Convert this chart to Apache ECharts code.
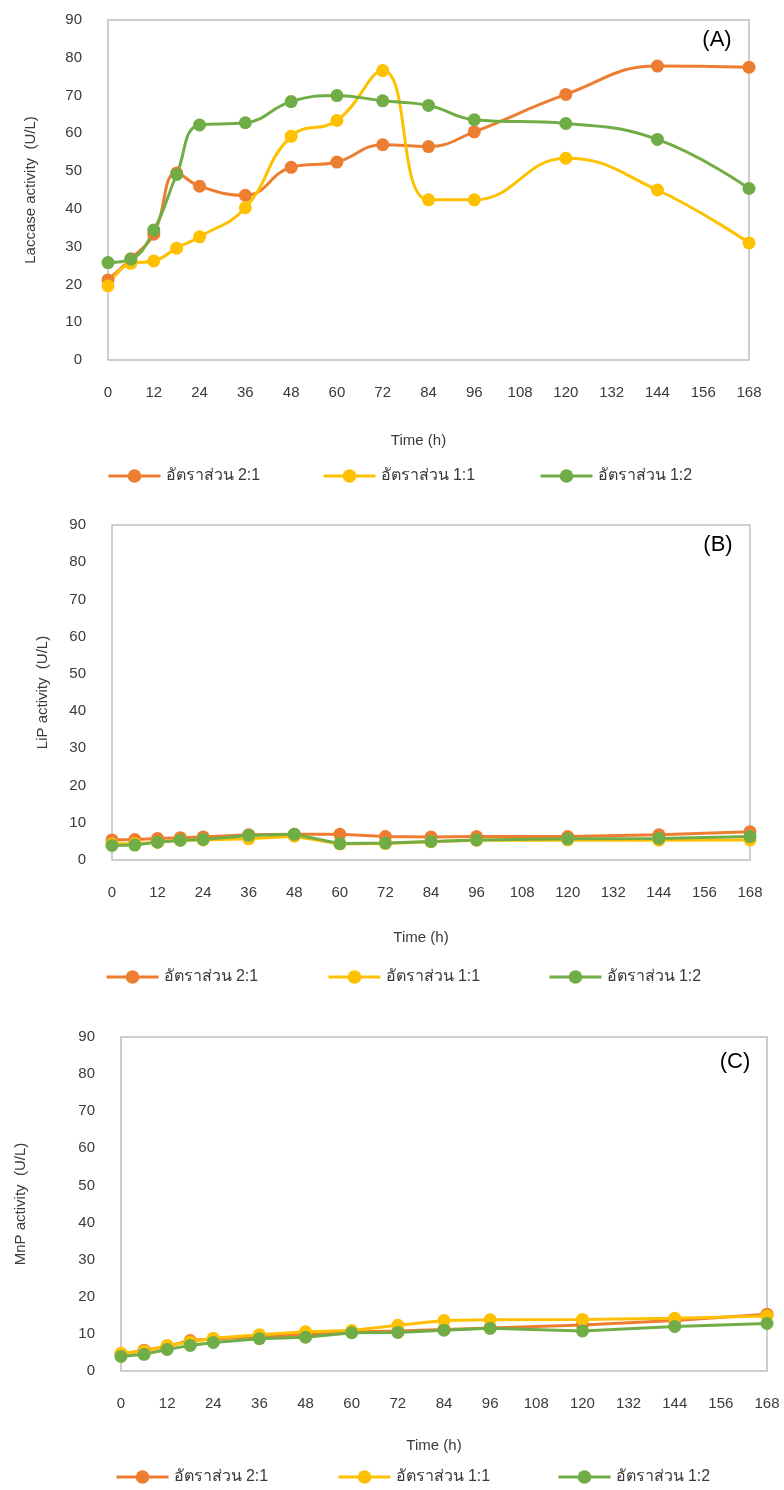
<!DOCTYPE html>
<html>
<head>
<meta charset="utf-8">
<script src="https://cdn.jsdelivr.net/npm/echarts@6/dist/echarts.min.js"></script>
<style>
  html, body { margin: 0; padding: 0; background: #fff; }
  #chart { width: 784px; height: 1490px; }
</style>
</head>
<body>
<div id="chart"></div>
<script>
// ---- data ----
const times = [0, 6, 12, 18, 24, 36, 48, 60, 72, 84, 96, 120, 144, 168];
const seriesNames = ['อัตราส่วน 2:1', 'อัตราส่วน 1:1', 'อัตราส่วน 1:2'];
const xTicks = [0, 12, 24, 36, 48, 60, 72, 84, 96, 108, 120, 132, 144, 156, 168];
const yTicks = [0, 10, 20, 30, 40, 50, 60, 70, 80, 90];

// (A) Laccase activity (U/L)
const laccase21 = [21.2, 26.8, 33.3, 49.5, 46.0, 43.6, 51.0, 52.4, 57.0, 56.5, 60.4, 70.3, 77.8, 77.5];
const laccase11 = [19.6, 25.6, 26.2, 29.6, 32.6, 40.3, 59.2, 63.4, 76.6, 42.4, 42.4, 53.4, 45.0, 31.0];
const laccase12 = [25.8, 26.7, 34.4, 49.1, 62.2, 62.8, 68.4, 70.0, 68.6, 67.4, 63.6, 62.6, 58.4, 45.4];

// (B) LiP activity (U/L)
const lip21 = [5.4, 5.5, 5.8, 6.0, 6.2, 6.8, 6.9, 6.9, 6.3, 6.2, 6.3, 6.3, 6.8, 7.6];
const lip11 = [4.3, 4.4, 4.8, 5.3, 5.4, 5.7, 6.4, 4.3, 4.4, 4.9, 5.3, 5.4, 5.3, 5.4];
const lip12 = [3.9, 4.0, 4.8, 5.3, 5.5, 6.6, 6.9, 4.4, 4.6, 5.0, 5.4, 5.7, 5.8, 6.3];

// (C) MnP activity (U/L)
const mnp21 = [4.5, 5.6, 6.6, 8.2, 8.6, 9.3, 9.8, 10.5, 10.8, 11.2, 11.6, 12.4, 13.6, 15.3];
const mnp11 = [4.8, 5.3, 6.9, 7.8, 8.8, 9.8, 10.6, 10.9, 12.3, 13.6, 13.8, 13.9, 14.2, 14.8];
const mnp12 = [3.9, 4.5, 5.8, 6.9, 7.7, 8.7, 9.1, 10.3, 10.4, 11.0, 11.5, 10.8, 12.0, 12.8];

const panelLabels = ['(A)', '(B)', '(C)'];
const yNames = ['Laccase activity  (U/L)', 'LiP activity  (U/L)', 'MnP activity  (U/L)'];
const xName = 'Time (h)';

// ---- styling / layout ----
const colors = ['#ED7D31', '#FFC000', '#70AD47'];
const FONT = "'Liberation Sans', 'Noto Sans', 'DejaVu Sans', sans-serif";
const TXT = '#3a3a3a';

const panels = [
  { data: [laccase21, laccase11, laccase12], smooth: 0.45,
    grid: { left: 108, top: 20, width: 641, height: 340 },
    yNameGap: 70, xNameGap: 73, labelPos: [717, 40],
    legendLeft: [107, 322, 539], legendTop: 468 },
  { data: [lip21, lip11, lip12], smooth: false,
    grid: { left: 112, top: 525, width: 638, height: 335 },
    yNameGap: 62, xNameGap: 70, labelPos: [718, 545],
    legendLeft: [105, 327, 548], legendTop: 969 },
  { data: [mnp21, mnp11, mnp12], smooth: false,
    grid: { left: 121, top: 1037, width: 646, height: 334 },
    yNameGap: 93, xNameGap: 67, labelPos: [735, 1062],
    legendLeft: [115, 337, 557], legendTop: 1469 }
];

const option = {
  animation: false,
  backgroundColor: '#fff',
  textStyle: { fontFamily: FONT, color: TXT },
  grid: [], xAxis: [], yAxis: [], series: [], legend: [],
  graphic: []
};

panels.forEach((p, i) => {
  option.grid.push(Object.assign({ show: true, borderColor: '#BFBFBF', borderWidth: 1.5, backgroundColor: '#fff' }, p.grid));
  option.xAxis.push({
    type: 'value', gridIndex: i, min: xTicks[0], max: xTicks[xTicks.length - 1], interval: xTicks[1] - xTicks[0],
    axisLine: { show: false }, axisTick: { show: false }, splitLine: { show: false },
    axisLabel: { margin: 25, fontSize: 15, color: TXT, fontFamily: FONT },
    name: xName, nameLocation: 'middle', nameGap: p.xNameGap,
    nameTextStyle: { fontSize: 15, color: TXT, fontFamily: FONT, padding: [0, 20, 0, 0] }
  });
  option.yAxis.push({
    type: 'value', gridIndex: i, min: yTicks[0], max: yTicks[yTicks.length - 1], interval: yTicks[1] - yTicks[0],
    axisLine: { show: false }, axisTick: { show: false }, splitLine: { show: false },
    axisLabel: { margin: 26, fontSize: 15, color: TXT, fontFamily: FONT },
    name: yNames[i], nameLocation: 'middle', nameGap: p.yNameGap,
    nameTextStyle: { fontSize: 15, color: TXT, fontFamily: FONT }
  });
  p.data.forEach((vals, s) => {
    option.series.push({
      type: 'line', name: seriesNames[s], xAxisIndex: i, yAxisIndex: i,
      data: times.map((t, k) => [t, vals[k]]),
      smooth: p.smooth,
      symbol: 'circle', symbolSize: 13,
      lineStyle: { width: 3, color: colors[s] },
      itemStyle: { color: colors[s] }
    });
    option.legend.push({
      data: [seriesNames[s]], left: p.legendLeft[s], top: p.legendTop,
      itemWidth: 52, itemHeight: 17, itemGap: 5, padding: 0,
      selectedMode: false,
      lineStyle: { width: 3 },
      textStyle: { fontSize: 16, color: TXT, fontFamily: FONT }
    });
  });
  option.graphic.push({
    type: 'text', x: p.labelPos[0], y: p.labelPos[1], z: 100,
    style: { text: panelLabels[i], fontSize: 22, fill: '#000', fontFamily: FONT, align: 'center', verticalAlign: 'middle' }
  });
});

const chart = echarts.init(document.getElementById('chart'), null, { renderer: 'canvas' });
chart.setOption(option);
</script>
</body>
</html>
